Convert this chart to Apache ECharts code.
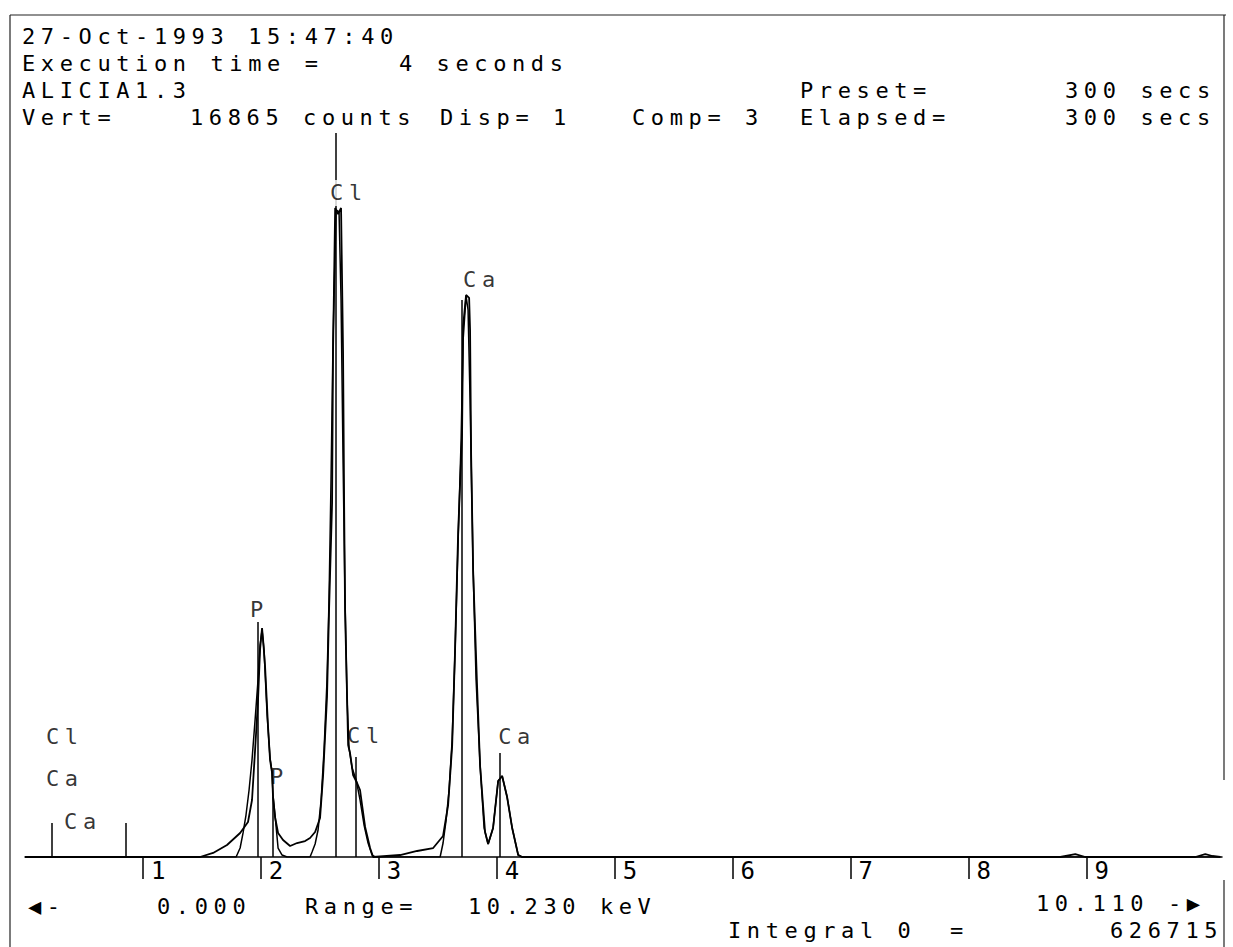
<!DOCTYPE html>
<html><head><meta charset="utf-8">
<script src="https://cdn.jsdelivr.net/npm/echarts@6/dist/echarts.min.js"></script>
<style>
html,body{margin:0;padding:0;background:#fff;}
#chart{width:1233px;height:947px;}
#chart text{letter-spacing:5.6px;}
</style></head><body><div id="chart"></div>
<script>
// ---- data (energy in keV, intensity in counts) ----
const fullScaleCounts = 16865;
const rangeKeV = 10.15;
const spectrumKeV = [0, 1.484, 1.595, 1.713, 1.824, 1.891, 1.925, 1.951, 1.976, 1.993, 2.010, 2.019, 2.036, 2.061, 2.078, 2.095, 2.103, 2.120, 2.146, 2.188, 2.248, 2.307, 2.375, 2.417, 2.460, 2.502, 2.528, 2.561, 2.578, 2.604, 2.612, 2.630, 2.655, 2.680, 2.697, 2.706, 2.714, 2.731, 2.740, 2.756, 2.782, 2.816, 2.841, 2.858, 2.884, 2.926, 2.952, 3.181, 3.325, 3.461, 3.545, 3.588, 3.622, 3.647, 3.673, 3.706, 3.715, 3.740, 3.766, 3.774, 3.783, 3.800, 3.834, 3.859, 3.901, 3.927, 3.969, 4.012, 4.046, 4.088, 4.131, 4.182, 4.215, 8.779, 8.906, 8.991, 9.924, 10.008, 10.068, 10.136];
const spectrumCounts = [0, 0, 81, 242, 484, 705, 1149, 2156, 3164, 4171, 4614, 4373, 3829, 2620, 1955, 1693, 1209, 806, 484, 343, 222, 282, 322, 383, 504, 786, 1652, 3224, 4957, 7133, 10176, 13077, 12956, 13077, 10176, 7133, 4957, 3224, 2257, 2096, 1652, 1491, 1350, 1048, 605, 181, 0, 40, 121, 181, 423, 1048, 2237, 4191, 6549, 8503, 10700, 11324, 11264, 10620, 8100, 5763, 3405, 1834, 504, 262, 584, 1531, 1632, 1209, 584, 40, 0, 0, 60, 0, 0, 60, 20, 0];
const compKeV = [0, 1.790, 1.824, 1.849, 1.874, 1.900, 1.925, 1.951, 1.976, 1.993, 2.010, 2.027, 2.053, 2.078, 2.095, 2.103, 2.120, 2.146, 2.180, 2.222, 2.417, 2.434, 2.460, 2.485, 2.511, 2.536, 2.561, 2.578, 2.595, 2.612, 2.638, 2.663, 2.680, 2.697, 2.714, 2.731, 2.748, 2.774, 2.808, 2.841, 2.875, 2.909, 2.943, 2.969, 3.520, 3.545, 3.571, 3.596, 3.622, 3.647, 3.673, 3.698, 3.715, 3.740, 3.757, 3.774, 3.783, 3.800, 3.825, 3.859, 3.893, 3.927, 3.969, 4.012, 4.046, 4.088, 4.131, 4.182, 4.215, 10.136];
const compCounts = [0, 0, 181, 484, 846, 1350, 1955, 2761, 3567, 4272, 4574, 4171, 2861, 1995, 1713, 1249, 846, 181, 40, 0, 0, 101, 262, 544, 1149, 2156, 3567, 5179, 7597, 10418, 13037, 12997, 11224, 8000, 5179, 3164, 2196, 1793, 1552, 1149, 645, 282, 40, 0, 0, 282, 746, 1350, 2358, 4171, 6388, 8403, 10418, 11304, 11022, 9209, 8000, 5783, 3567, 1854, 584, 262, 584, 1531, 1632, 1209, 584, 40, 0, 0];
const markerKeV = [0.229, 0.857, 1.976, 2.103, 2.638, 2.808, 3.706, 4.029];
const markerCounts = [685, 685, 4735, 1209, 14589, 2015, 11224, 2096];
const labelText = ['Cl', 'Ca', 'Ca', 'P', 'P', 'Cl', 'Cl', 'Ca', 'Ca'];
const labelKeV = [0.178, 0.178, 0.331, 1.908, 2.078, 2.570, 2.731, 3.715, 4.012];
const labelCounts = [2418, 1572, 725, 4997, 1632, 13380, 2458, 11627, 2418];
const tickValues = [1, 2, 3, 4, 5, 6, 7, 8, 9];
const tickLabels = ['1', '2', '3', '4', '5', '6', '7', '8', '9'];
const headerTexts = ['27-Oct-1993 15:47:40', 'Execution time =    4 seconds', 'ALICIA1.3', 'Preset=', '300 secs', 'Vert=', '16865 counts', 'Disp= 1', 'Comp= 3', 'Elapsed=', '300 secs'];
const footerTexts = ['\u25C0-', '0.000', 'Range=', '10.230 keV', '10.110 -\u25B6', 'Integral 0', '=', '626715'];

// ---- layout ----
const FONT = '22px "DejaVu Sans Mono"';
const headerPos = [[22,36],[22,63],[22,90],[800,90],[1065,90],[22,117],[190,117],[440,117],[632,117],[800,117],[1065,117]];
const footerPos = [[28,906],[157,906],[305,906],[468,906],[1036,903],[728,930],[950,930],[1110,930]];

function txt(s, p) {
  return {type:'text', x:p[0], y:p[1], silent:true, z:10,
    style:{text:s, font:FONT, fill:'#000', textAlign:'left', textVerticalAlign:'middle'}};
}
const graphics = [];
headerTexts.forEach((s,i)=>graphics.push(txt(s, headerPos[i])));
footerTexts.forEach((s,i)=>graphics.push(txt(s, footerPos[i])));
// frame
const frameStyle = {stroke:'#222', lineWidth:1.2};
graphics.push({type:'line', silent:true, shape:{x1:10,y1:15,x2:1226,y2:15}, style:frameStyle});
graphics.push({type:'line', silent:true, shape:{x1:10,y1:15,x2:10,y2:947}, style:frameStyle});
graphics.push({type:'line', silent:true, shape:{x1:1224,y1:15,x2:1224,y2:780}, style:frameStyle});
graphics.push({type:'line', silent:true, shape:{x1:1224,y1:880,x2:1224,y2:947}, style:frameStyle});

const zip = (a,b)=>a.map((v,i)=>[v,b[i]]);

const chart = echarts.init(document.getElementById('chart'), null, {renderer:'svg'});
chart.setOption({
  animation:false,
  backgroundColor:'#fff',
  grid:{left:25, right:11, top:20, bottom:90},
  xAxis:{type:'value', min:0, max:rangeKeV, splitLine:{show:false},
    axisLine:{show:true, lineStyle:{color:'#000', width:1.5}},
    axisTick:{show:true, customValues:tickValues, length:22, lineStyle:{color:'#000', width:1.5}},
    axisLabel:{show:true, customValues:tickValues, formatter:(v)=>tickLabels[tickValues.indexOf(v)] || '',
      align:'left', verticalAlign:'top', margin:2, padding:[0,0,0,8],
      fontFamily:'DejaVu Sans Mono', fontSize:24, color:'#000'}},
  yAxis:{type:'value', min:0, max:fullScaleCounts, show:false},
  graphic:graphics,
  series:[
    {type:'line', data:zip(spectrumKeV, spectrumCounts), symbol:'none', z:3,
      lineStyle:{color:'#000', width:1.8},
      markLine:{silent:true, symbol:'none', label:{show:false}, animation:false,
        lineStyle:{color:'#000', width:1.5, type:'solid'},
        data:markerKeV.map((k,i)=>[{coord:[k,0]},{coord:[k,markerCounts[i]]}])}},
    {type:'line', data:zip(compKeV, compCounts), symbol:'none', z:3,
      lineStyle:{color:'#000', width:1.5}},
    {type:'scatter', symbolSize:0, z:6, silent:true,
      data:labelText.map((t,i)=>({name:t, value:[labelKeV[i], labelCounts[i]],
        label: i===5 ? {backgroundColor:'#fff', padding:[2,14,2,2]} : undefined})),
      label:{show:true, position:'right', distance:0, align:'left', verticalAlign:'middle',
        formatter:'{b}', fontFamily:'DejaVu Sans Mono', fontSize:22, color:'#000'}}
  ]
});
</script></body></html>
